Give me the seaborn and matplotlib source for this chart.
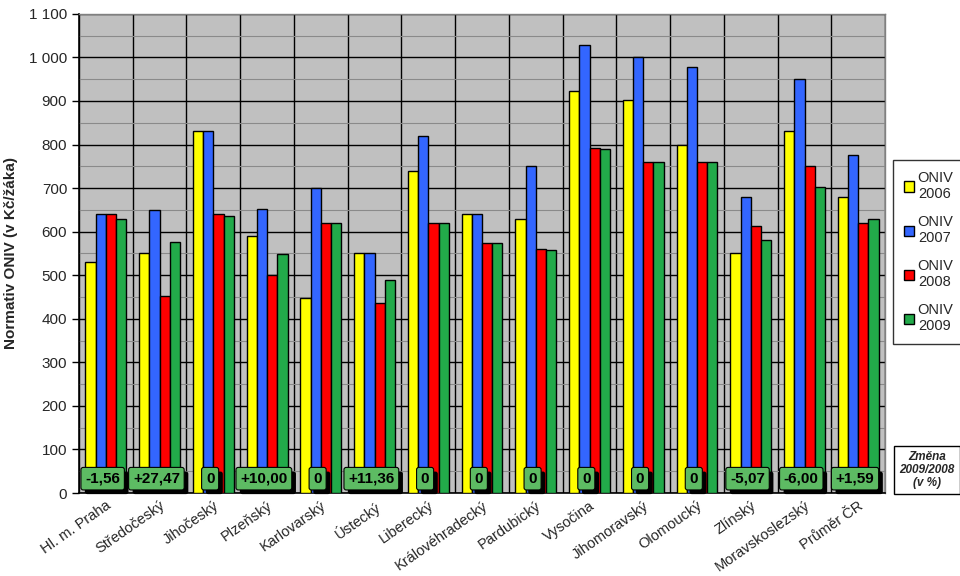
import matplotlib
matplotlib.use("Agg")
import matplotlib.pyplot as plt
import matplotlib.ticker as mticker
import matplotlib.patheffects as pe
import numpy as np
import pandas as pd
import seaborn as sns

regions = ["Hl. m. Praha", "Středočeský", "Jihočeský", "Plzeňský", "Karlovarský",
           "Ústecký", "Liberecký", "Královéhradecký", "Pardubický", "Vysočina",
           "Jihomoravský", "Olomoucký", "Zlínský", "Moravskoslezský", "Průměr ČR"]
oniv_2006 = [530, 550, 832, 591, 448, 550, 740, 640, 630, 922, 902, 800, 550, 830, 680]
oniv_2007 = [640, 650, 832, 651, 700, 550, 820, 640, 750, 1028, 1000, 977, 680, 950, 777]
oniv_2008 = [640, 453, 640, 500, 619, 437, 619, 573, 560, 793, 760, 760, 612, 750, 620]
oniv_2009 = [628, 577, 637, 548, 619, 488, 619, 573, 557, 790, 760, 760, 580, 703, 630]
changes = ["-1,56", "+27,47", "0", "+10,00", "0", "+11,36", "0", "0", "0", "0",
           "0", "0", "-5,07", "-6,00", "+1,59"]
series_names = ["ONIV\n2006", "ONIV\n2007", "ONIV\n2008", "ONIV\n2009"]
colors = ["#FFFF00", "#3366FF", "#FF0000", "#22AA4A"]

rows = []
for name, vals in zip(series_names, [oniv_2006, oniv_2007, oniv_2008, oniv_2009]):
    for r, v in zip(regions, vals):
        rows.append({"region": r, "series": name, "value": v})
df = pd.DataFrame(rows)

sns.set_style("white")
plt.rcParams["font.family"] = ["Liberation Sans", "DejaVu Sans"]

fig = plt.figure(figsize=(9.6, 5.76), dpi=100)
ax = fig.add_axes([0.0823, 0.144, 0.8397, 0.832])
ax.set_facecolor("#C0C0C0")

sns.barplot(data=df, x="region", y="value", hue="series", palette=colors,
            order=regions, hue_order=series_names, width=0.76, ax=ax,
            edgecolor="black", linewidth=1.0, saturation=1, legend=True, zorder=3)

ax.set_ylim(0, 1100)
ax.set_xlim(-0.5, len(regions) - 0.5)
ax.yaxis.set_major_locator(mticker.MultipleLocator(100))
ax.yaxis.set_minor_locator(mticker.MultipleLocator(50))
ax.yaxis.set_major_formatter(mticker.FuncFormatter(
    lambda v, p: f"{int(v):,}".replace(",", " ")))
ax.grid(which="major", axis="y", color="black", linewidth=1.0, zorder=0)
ax.grid(which="minor", axis="y", color="#8A8A8A", linewidth=0.8, zorder=0)
ax.set_xticks(np.arange(-0.5, len(regions), 1.0), minor=True)
ax.grid(which="minor", axis="x", color="black", linewidth=1.0, zorder=0)
ax.set_axisbelow(True)

ax.tick_params(axis="x", which="major", length=0, labelsize=10.5, pad=4)
ax.tick_params(axis="x", which="minor", length=5, direction="out", color="black", width=1)
ax.tick_params(axis="y", which="major", length=5, direction="out", color="black",
               width=1, labelsize=11, left=True)
ax.tick_params(axis="y", which="minor", length=0)
plt.setp(ax.get_xticklabels(), rotation=35, ha="right", rotation_mode="anchor")

ax.set_xlabel("")
ax.set_ylabel("Normativ ONIV (v Kč/žáka)", fontsize=11, fontweight="bold", labelpad=8)
for s in ["left", "bottom"]:
    ax.spines[s].set_color("black")
    ax.spines[s].set_linewidth(1.2)
for s in ["top", "right"]:
    ax.spines[s].set_color("#808080")
    ax.spines[s].set_linewidth(1.0)

# change labels with shadowed green boxes
for i, c in enumerate(changes):
    t = ax.text(i - 0.06, 33, c, ha="center", va="center",
                fontsize=11, fontweight="bold", color="black",
                bbox=dict(boxstyle="round,pad=0.28,rounding_size=0.15",
                          fc="#5DBB63", ec="black", lw=0.8), zorder=6)
    t.get_bbox_patch().set_path_effects([
        pe.SimplePatchShadow(offset=(3, -3), shadow_rgbFace="black", alpha=1.0),
        pe.Normal()])

# legend
leg = ax.legend(loc="upper left", bbox_to_anchor=(0.930, 0.722),
                bbox_transform=fig.transFigure, frameon=True, fontsize=10.5,
                handlelength=0.7, handleheight=0.7, handletextpad=0.2,
                labelspacing=0.95, borderpad=0.75, borderaxespad=0.0,
                fancybox=False)
leg.get_frame().set_edgecolor("black")
leg.get_frame().set_linewidth(1.0)
for t in leg.get_texts():
    t.set_multialignment("center")

# Změna box
fig.text(0.9655, 0.184, "Změna\n2009/2008\n(v %)", ha="center", va="center",
         fontsize=8.5, fontweight="bold", style="italic", linespacing=1.1,
         bbox=dict(boxstyle="square,pad=0.45", fc="white", ec="black", lw=1.0))

fig.savefig("out.png", dpi=100)
